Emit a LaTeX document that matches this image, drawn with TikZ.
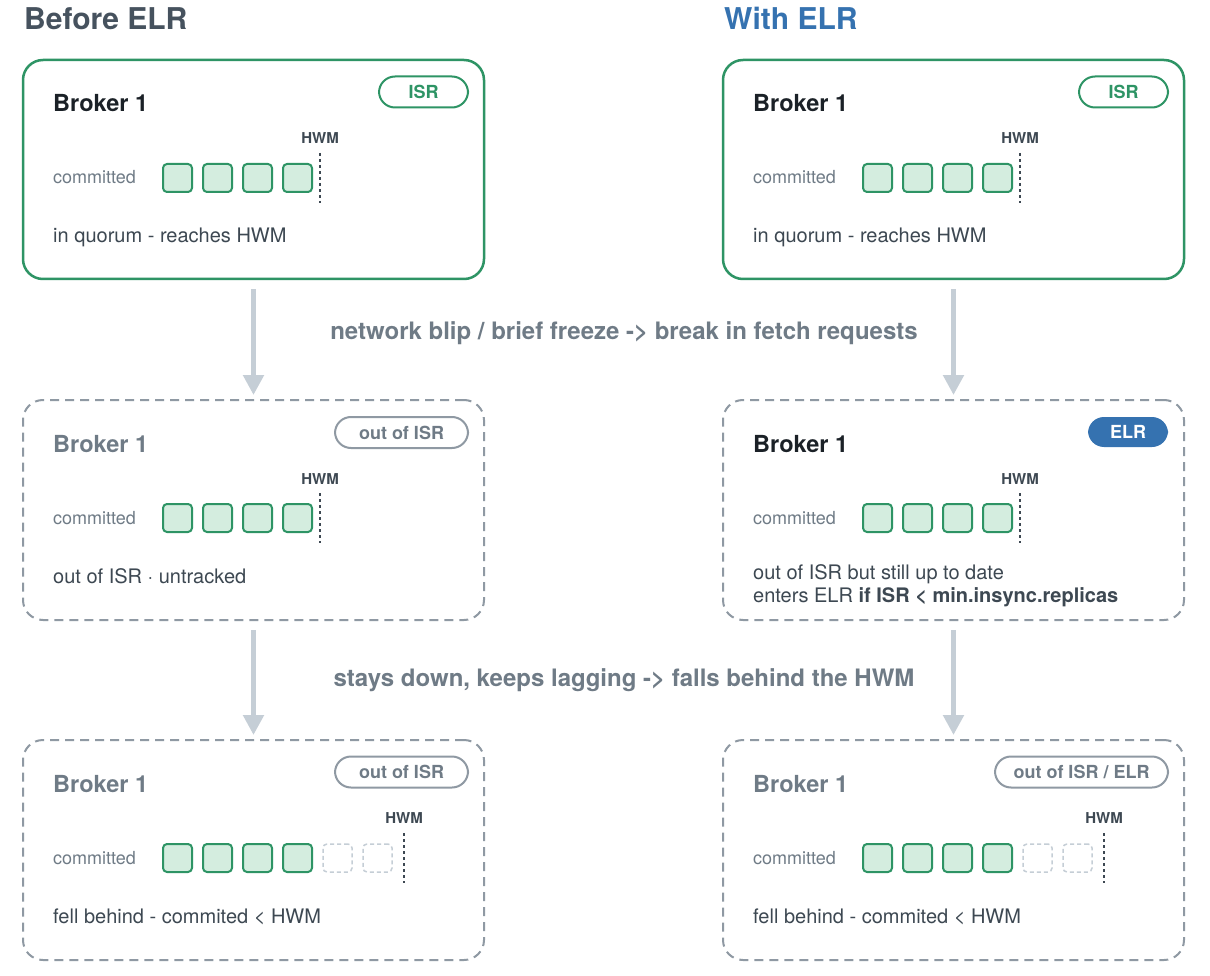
\documentclass[tikz,border=0pt]{standalone}
\usepackage{fontspec}
\setmainfont{TeX Gyre Heros}
\usetikzlibrary{arrows.meta}
\definecolor{grn}{HTML}{2E9465}
\definecolor{cellfill}{HTML}{D4EDDF}
\definecolor{dgray}{HTML}{8F99A3}
\definecolor{agray}{HTML}{C5CED6}
\definecolor{titlec}{HTML}{46525E}
\definecolor{bluec}{HTML}{3572B0}
\definecolor{darkt}{HTML}{1B2127}
\definecolor{midt}{HTML}{6F7B86}
\definecolor{bodyt}{HTML}{3D4852}
\newcommand\fsz[1]{\fontsize{#1}{#1}\selectfont}
\tikzset{
  activebox/.style={draw=grn, line width=2.5pt, rounded corners=20pt, minimum width=461pt, minimum height=219pt, inner sep=0pt},
  idlebox/.style={draw=dgray, line width=2pt, dash pattern=on 9pt off 6pt, rounded corners=20pt, minimum width=461pt, minimum height=220pt, inner sep=0pt},
  pill/.style={rounded corners=16pt, line width=2pt, minimum height=31pt, inner sep=0pt, font=\fsz{18}\bfseries},
  cellbox/.style={draw=grn, fill=cellfill, line width=2pt, rounded corners=4pt, minimum width=29pt, minimum height=28pt, inner sep=0pt},
  ghostcell/.style={draw=agray, line width=1.5pt, dash pattern=on 4pt off 3pt, rounded corners=4pt, minimum width=29pt, minimum height=28pt, inner sep=0pt},
  hwmline/.style={draw=bodyt, line width=2pt, dash pattern=on 3pt off 3pt},
  hwmlabel/.style={anchor=base, font=\fsz{15}\bfseries, text=bodyt, inner sep=0pt},
  brokertitle/.style={anchor=base west, font=\fsz{23.5}\bfseries, inner sep=0pt},
  commitlabel/.style={anchor=base west, font=\fsz{18}, text=midt, inner sep=0pt},
  bodytext/.style={anchor=base west, font=\fsz{20}, text=bodyt, inner sep=0pt},
  flow/.style={draw=agray, line width=5pt, -{Triangle[length=20pt,width=20pt]}},
  steplabel/.style={anchor=base, font=\fsz{24}\bfseries, text=midt, inner sep=0pt},
  heading/.style={anchor=base west, font=\fsz{30}\bfseries, inner sep=0pt}
}
\begin{document}
\begin{tikzpicture}[x=1pt,y=-1pt]
\useasboundingbox (0,0) rectangle (1210,976);
\fill[white] (0,0) rectangle (1210,976);

% headings
\node[heading, text=titlec] (h1) at (24,30) {Before ELR};
\node[heading, text=bluec] (h2) at (724,30) {With ELR};

% boxes
\node[activebox] (L1) at (253.5,169.5) {};
\node[activebox] (R1) at (953.5,169.5) {};
\node[idlebox] (L2) at (253.5,510) {};
\node[idlebox] (R2) at (953.5,510) {};
\node[idlebox] (L3) at (253.5,850) {};
\node[idlebox] (R3) at (953.5,850) {};

% pills
\node[pill, draw=grn, text=grn, minimum width=89pt] (pL1) at (423.5,92) {ISR};
\node[pill, draw=grn, text=grn, minimum width=89pt] (pR1) at (1123.5,92) {ISR};
\node[pill, draw=dgray, text=midt, minimum width=133pt] (pL2) at (401.5,432.5) {out of ISR};
\node[pill, draw=none, fill=bluec, text=white, minimum width=80pt, minimum height=30pt] (pR2) at (1128,432) {ELR};
\node[pill, draw=dgray, text=midt, minimum width=133pt] (pL3) at (401.5,772) {out of ISR};
\node[pill, draw=dgray, text=midt, minimum width=173pt] (pR3) at (1081.5,772) {out of ISR / ELR};

% broker titles
\node[brokertitle, text=darkt] (tL1) at (53,112) {Broker 1};
\node[brokertitle, text=darkt] (tR1) at (753,112) {Broker 1};
\node[brokertitle, text=midt] (tL2) at (53,452) {Broker 1};
\node[brokertitle, text=darkt] (tR2) at (753,452) {Broker 1};
\node[brokertitle, text=midt] (tL3) at (53,792) {Broker 1};
\node[brokertitle, text=midt] (tR3) at (753,792) {Broker 1};

% committed rows
\foreach \col/\cx in {L/0,R/700}{
  \foreach \row/\dy in {1/0,2/340,3/680}{
    \node[commitlabel] (cm\col\row) at (53+\cx,184+\dy) {committed};
    \foreach \i in {0,1,2,3}{
      \node[cellbox] (c\col\row\i) at (177.5+40*\i+\cx,178+\dy) {};
    }
  }
  \foreach \i in {4,5}{
    \node[ghostcell] (c\col3\i) at (177.5+40*\i+\cx,858) {};
  }
  % HWM markers
  \node[hwmlabel] (hw\col1) at (320+\cx,144) {HWM};
  \node[hwmlabel] (hw\col2) at (320+\cx,484) {HWM};
  \node[hwmlabel] (hw\col3) at (404+\cx,823) {HWM};
  \draw[hwmline] (320+\cx,153) -- (320+\cx,203);
  \draw[hwmline] (320+\cx,493) -- (320+\cx,543);
  \draw[hwmline] (404+\cx,833) -- (404+\cx,883);
}

% bottom texts
\node[bodytext] (bL1) at (53,243) {in quorum - reaches HWM};
\node[bodytext] (bR1) at (753,243) {in quorum - reaches HWM};
\node[bodytext] (bL2) at (53,583) {out of ISR · untracked};
\node[bodytext] (bR2a) at (753,579) {out of ISR but still up to date};
\node[bodytext] (bR2b) at (753,602) {enters ELR \textbf{if ISR < min.insync.replicas}};
\node[bodytext] (bL3) at (53,923) {fell behind - commited < HWM};
\node[bodytext] (bR3) at (753,923) {fell behind - commited < HWM};

% transitions
\draw[flow] ([yshift=-9pt]L1.south) -- ([yshift=4pt]L2.north);
\draw[flow] ([yshift=-9pt]R1.south) -- ([yshift=4pt]R2.north);
\draw[flow] ([yshift=-9pt]L2.south) -- ([yshift=4pt]L3.north);
\draw[flow] ([yshift=-9pt]R2.south) -- ([yshift=4pt]R3.north);

\node[steplabel] (s1) at (624,339) {network blip / brief freeze -> break in fetch requests};
\node[steplabel] (s2) at (624,686) {stays down, keeps lagging -> falls behind the HWM};
\end{tikzpicture}
\end{document}
